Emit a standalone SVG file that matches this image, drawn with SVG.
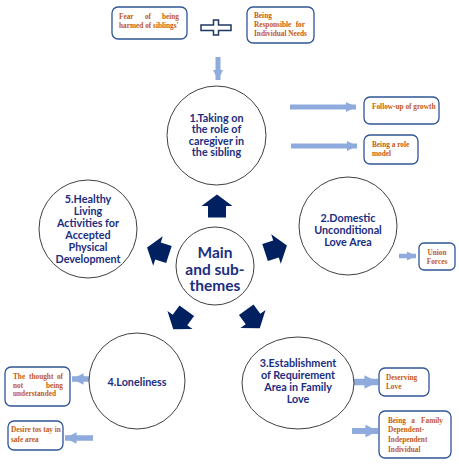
<svg xmlns="http://www.w3.org/2000/svg" width="459" height="468" viewBox="0 0 459 468">
<style>
.circ{fill:#fff;stroke:#404040;stroke-width:1}
.ct{font-family:Lato,"Open Sans",sans-serif;font-weight:bold;font-size:10.8px;fill:#1C2E80;text-anchor:middle}
.mt{font-family:Lato,"Open Sans",sans-serif;font-weight:bold;font-size:15.5px;fill:#1C2E80;text-anchor:middle}
.box{fill:#fff;stroke:#2F5597;stroke-width:1.3}
.bt{font-family:"Liberation Serif",serif;font-weight:bold;font-size:7.3px;fill:#C55A11}
.e{text-anchor:end}
.m{text-anchor:middle}
.la{stroke:#8FAADC;fill:none}
.blk{fill:#002060}
</style>
<defs>
<marker id="ah" viewBox="0 0 10 10" refX="10" refY="5" markerWidth="2.1" markerHeight="2.1" orient="auto"><path d="M0,0 L10,5 L0,10 Z" fill="#8FAADC"/></marker>
<path id="bigArrow" d="M0,-11.5 L15.5,0 L9,0 L9,11.5 L-9,11.5 L-9,0 L-15.5,0 Z"/>
</defs>

<g id="connectors">
  <line class="la" x1="218" y1="57" x2="218" y2="80" stroke-width="5" marker-end="url(#ah)"/>
  <line class="la" x1="290" y1="107" x2="356" y2="107" stroke-width="5" marker-end="url(#ah)"/>
  <line class="la" x1="291" y1="146" x2="357" y2="146" stroke-width="5" marker-end="url(#ah)"/>
  <line class="la" x1="399" y1="256" x2="416" y2="256" stroke-width="4.5" marker-end="url(#ah)"/>
  <line class="la" x1="343" y1="382" x2="378" y2="382" stroke-width="6.5" marker-end="url(#ah)"/>
  <line class="la" x1="352" y1="431" x2="378" y2="431" stroke-width="6" marker-end="url(#ah)"/>
  <line class="la" x1="100" y1="379" x2="72" y2="379" stroke-width="5.5" marker-end="url(#ah)"/>
  <line class="la" x1="93" y1="438" x2="65" y2="438" stroke-width="5.5" marker-end="url(#ah)"/>
  <use href="#bigArrow" class="blk" transform="translate(217,206)"/>
  <use href="#bigArrow" class="blk" transform="translate(276,249) rotate(72)"/>
  <use href="#bigArrow" class="blk" transform="translate(253,319) rotate(144)"/>
  <use href="#bigArrow" class="blk" transform="translate(180,320) rotate(-144)"/>
  <use href="#bigArrow" class="blk" transform="translate(158,251) rotate(-72)"/>
</g>

<g id="plus">
  <path d="M201,25 H213.5 V20 H218.5 V25 H231 V30.5 H218.5 V35 H213.5 V30.5 H201 Z" fill="#fff" stroke="#1F3864" stroke-width="1.5"/>
</g>

<g id="box-fear">
  <rect class="box" x="112" y="7" width="75" height="32" rx="6"/>
  <text class="bt" x="119" y="19">Fear</text>
  <text class="bt m" x="148" y="19">of</text>
  <text class="bt e" x="179" y="19">being</text>
  <text class="bt" x="119" y="28">harmed of siblings'</text>
</g>
<g id="box-responsible">
  <rect class="box" x="247" y="7" width="67" height="36" rx="6"/>
  <text class="bt" x="254" y="17.5">Being</text>
  <text class="bt" x="254" y="27">Responsible</text>
  <text class="bt e" x="305" y="27">for</text>
  <text class="bt" x="254" y="36">Individual Needs</text>
</g>

<g id="theme1">
  <circle class="circ" cx="216.5" cy="135.5" r="49.5"/>
  <text class="ct" x="216.5" y="121.5">1.Taking on</text>
  <text class="ct" x="216.5" y="133">the role of</text>
  <text class="ct" x="216.5" y="144.5">caregiver in</text>
  <text class="ct" x="216.5" y="156">the sibling</text>
</g>
<g id="box-follow">
  <rect class="box" x="364" y="97" width="75" height="27" rx="6"/>
  <text class="bt" x="372" y="109">Follow-up of growth</text>
</g>
<g id="box-role">
  <rect class="box" x="364" y="135" width="54" height="29" rx="6"/>
  <text class="bt" x="372" y="146.5">Being a role</text>
  <text class="bt" x="372" y="156">model</text>
</g>

<g id="theme2">
  <circle class="circ" cx="348" cy="226" r="49"/>
  <text class="ct" x="348" y="221.5">2.Domestic</text>
  <text class="ct" x="348" y="233.5">Unconditional</text>
  <text class="ct" x="348" y="246">Love Area</text>
</g>
<g id="box-union">
  <rect class="box" x="419" y="243" width="36" height="27" rx="5"/>
  <text class="bt m" x="437" y="255" font-size="6.5">Union</text>
  <text class="bt m" x="437" y="264" font-size="6.5">Forces</text>
</g>

<g id="theme5">
  <circle class="circ" cx="88" cy="229" r="49"/>
  <text class="ct" x="88" y="202.5">5.Healthy</text>
  <text class="ct" x="88" y="214.5">Living</text>
  <text class="ct" x="88" y="226.5">Activities for</text>
  <text class="ct" x="88" y="238.5">Accepted</text>
  <text class="ct" x="88" y="250.5">Physical</text>
  <text class="ct" x="88" y="262.5">Development</text>
</g>

<g id="main">
  <circle class="circ" cx="215" cy="266" r="39"/>
  <text class="mt" x="215" y="258">Main</text>
  <text class="mt" x="215" y="274.5">and sub-</text>
  <text class="mt" x="215" y="291">themes</text>
</g>

<g id="theme4">
  <circle class="circ" cx="137" cy="381" r="48"/>
  <text class="ct" x="137" y="385.5">4.Loneliness</text>
</g>
<g id="box-thought">
  <rect class="box" x="5" y="367" width="65" height="39" rx="6"/>
  <text class="bt" x="13" y="378.5">The</text>
  <text class="bt" x="29" y="378.5">thought</text>
  <text class="bt e" x="63" y="378.5">of</text>
  <text class="bt" x="13" y="387.5">not</text>
  <text class="bt e" x="63" y="387.5">being</text>
  <text class="bt" x="13" y="396">understanded</text>
</g>
<g id="box-desire">
  <rect class="box" x="8" y="421" width="55" height="29" rx="6"/>
  <text class="bt" x="11" y="432">Desire tos tay in</text>
  <text class="bt" x="11" y="441.5">safe area</text>
</g>

<g id="theme3">
  <ellipse class="circ" cx="298" cy="383" rx="56" ry="46"/>
  <text class="ct" x="298" y="366.5">3.Establishment</text>
  <text class="ct" x="298" y="378.5">of Requirement</text>
  <text class="ct" x="298" y="390.5">Area in Family</text>
  <text class="ct" x="298" y="402.5">Love</text>
</g>
<g id="box-deserving">
  <rect class="box" x="379" y="368" width="50" height="28" rx="6"/>
  <text class="bt" x="386" y="380">Deserving</text>
  <text class="bt" x="386" y="389">Love</text>
</g>
<g id="box-family">
  <rect class="box" x="379" y="411" width="72" height="47" rx="6"/>
  <text class="bt" x="388" y="423">Being</text>
  <text class="bt m" x="413" y="423">a</text>
  <text class="bt e" x="443" y="423">Family</text>
  <text class="bt" x="388" y="432">Dependent-</text>
  <text class="bt" x="388" y="441.5">Independent</text>
  <text class="bt" x="388" y="451.5">Individual</text>
</g>
</svg>
